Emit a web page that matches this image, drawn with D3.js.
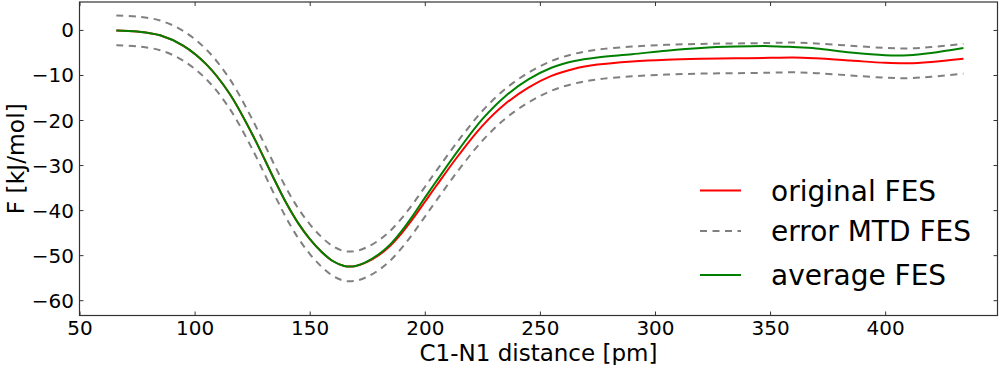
<!DOCTYPE html>
<html>
<head>
<meta charset="utf-8">
<script src="https://cdn.jsdelivr.net/npm/d3@7/dist/d3.min.js"></script>
<style>
  html, body { margin: 0; padding: 0; background: #fff; }
  text { font-family: "DejaVu Sans", sans-serif; fill: #000; }
</style>
</head>
<body>
<svg id="chart" width="1000" height="365"></svg>
<script>
// ---- data ----
const distance = [66,75,85,95,105,115,125,135,140,145,150,155,160,165,170,175,180,185,190,195,200,205,215,225,235,245,255,265,275,290,305,320,335,350,360,370,385,400,410,420,434];
const originalFES = [-0.1,-0.35,-1.2,-3.5,-7.6,-14.0,-23.1,-33.6,-38.6,-42.9,-46.4,-49.2,-51.3,-52.4,-52.4,-51.5,-50.0,-47.9,-45.1,-41.8,-38.2,-34.6,-27.6,-21.3,-16.4,-12.8,-10.2,-8.6,-7.7,-7.0,-6.6,-6.4,-6.3,-6.2,-6.1,-6.3,-6.8,-7.3,-7.4,-7.1,-6.4];
const averageFES = [-0.1,-0.35,-1.2,-3.5,-7.6,-14.0,-23.1,-33.6,-38.6,-42.9,-46.4,-49.2,-51.3,-52.4,-52.4,-51.4,-49.8,-47.6,-44.6,-41.1,-37.3,-33.6,-26.4,-19.8,-14.7,-11.0,-8.4,-6.9,-6.1,-5.4,-4.6,-4.0,-3.7,-3.6,-3.8,-4.1,-5.0,-5.6,-5.6,-5.1,-4.0];
const errorUpper = [3.2,2.95,2.1,-0.2,-4.3,-10.7,-19.8,-30.3,-35.3,-39.6,-43.1,-45.9,-48.0,-49.1,-49.1,-48.2,-46.7,-44.6,-41.8,-38.5,-34.9,-31.3,-24.3,-18.0,-13.1,-9.5,-6.9,-5.3,-4.4,-3.7,-3.3,-3.1,-3.0,-2.9,-2.8,-3.0,-3.5,-4.0,-4.1,-3.8,-3.1];
const errorLower = [-3.4,-3.65,-4.5,-6.8,-10.9,-17.3,-26.4,-36.9,-41.9,-46.2,-49.7,-52.5,-54.6,-55.7,-55.7,-54.8,-53.3,-51.2,-48.4,-45.1,-41.5,-37.9,-30.9,-24.6,-19.7,-16.1,-13.5,-11.9,-11.0,-10.3,-9.9,-9.7,-9.6,-9.5,-9.4,-9.6,-10.1,-10.6,-10.7,-10.4,-9.7];
const xTicks = [50,100,150,200,250,300,350,400];
const yTicks = [0,-10,-20,-30,-40,-50,-60];
const legendLabels = ["original FES","error MTD FES","average FES"];
const xDomain = [50, 448.8];
const yDomain = [-63.4, 6.2];

// ---- layout ----
const svg = d3.select("#chart");
const L = 79.5, R = 997.5, T = 2, B = 315.5;
const x = d3.scaleLinear().domain(xDomain).range([L, R]);
const y = d3.scaleLinear().domain(yDomain).range([B, T]);

const line = (ys) => d3.line()
  .x((d, i) => x(distance[i]))
  .y(d => y(d))
  .curve(d3.curveCatmullRom.alpha(0.5))(ys);

const plot = svg.append("g");
plot.append("path").attr("d", line(originalFES))
  .attr("fill", "none").attr("stroke", "#ff0000").attr("stroke-width", 2);
[errorUpper, errorLower].forEach(s => {
  plot.append("path").attr("d", line(s))
    .attr("fill", "none").attr("stroke", "#808080").attr("stroke-width", 2)
    .attr("stroke-dasharray", "7,5.5");
});
plot.append("path").attr("d", line(averageFES))
  .attr("fill", "none").attr("stroke", "#008000").attr("stroke-width", 2);

// ---- axes (ticks inside, on all four sides) ----
const tickLen = 4;
const fmt = d3.format("d");
const axB = svg.append("g").attr("transform", `translate(0,${B})`)
  .call(d3.axisBottom(x).tickValues(xTicks).tickSizeInner(-tickLen).tickSizeOuter(0).tickFormat(fmt));
const axT = svg.append("g").attr("transform", `translate(0,${T})`)
  .call(d3.axisTop(x).tickValues(xTicks).tickSizeInner(-tickLen).tickSizeOuter(0).tickFormat(""));
const axL = svg.append("g").attr("transform", `translate(${L},0)`)
  .call(d3.axisLeft(y).tickValues(yTicks).tickSizeInner(-tickLen).tickSizeOuter(0).tickFormat(fmt));
const axR = svg.append("g").attr("transform", `translate(${R},0)`)
  .call(d3.axisRight(y).tickValues(yTicks).tickSizeInner(-tickLen).tickSizeOuter(0).tickFormat(""));
[axB, axT, axL, axR].forEach(a => {
  a.select(".domain").remove();
  a.selectAll(".tick line").attr("stroke", "#333").attr("stroke-width", 1);
  a.selectAll("text").style("font-family", "DejaVu Sans, sans-serif").style("font-size", "20px").attr("fill", "#000");
});
axB.selectAll("text").attr("dy", null).attr("y", 19.5);
axL.selectAll("text").attr("x", -5.5).attr("dy", "0.35em");

svg.append("rect").attr("x", L).attr("y", T).attr("width", R - L).attr("height", B - T)
  .attr("fill", "none").attr("stroke", "#333").attr("stroke-width", 1.2);

// ---- axis labels ----
svg.append("text").attr("x", (L + R) / 2).attr("y", 360.5)
  .attr("text-anchor", "middle").style("font-size", "23px").text("C1-N1 distance [pm]");
svg.append("text").attr("transform", `translate(23.5,${(T + B) / 2}) rotate(-90)`)
  .attr("text-anchor", "middle").style("font-size", "23.4px").text("F [kJ/mol]");

// ---- legend ----
const legColors = ["#ff0000", "#808080", "#008000"];
const legDash = [null, "7,5.5", null];
const legY = [190.5, 231, 275];
legendLabels.forEach((lab, i) => {
  svg.append("line").attr("x1", 700).attr("x2", 741).attr("y1", legY[i]).attr("y2", legY[i])
    .attr("stroke", legColors[i]).attr("stroke-width", 2).attr("stroke-dasharray", legDash[i]);
  svg.append("text").attr("x", 771).attr("y", legY[i]).attr("dy", "0.36em")
    .style("font-size", "28px").text(lab);
});
</script>
</body>
</html>
